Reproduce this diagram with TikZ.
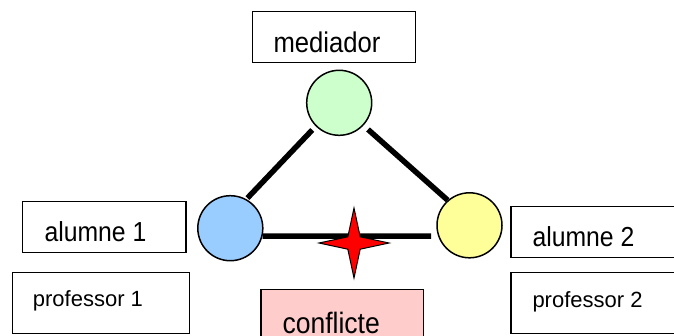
\documentclass[tikz,border=0pt]{standalone}
\usepackage{fontspec}
\setmainfont{Liberation Sans}
\newfontfamily\narrowsans{Liberation Sans}[FakeStretch=0.9]
\usetikzlibrary{shapes.geometric}

\definecolor{mediatorfill}{HTML}{CCFFCC}
\definecolor{studentonefill}{HTML}{99CCFF}
\definecolor{studenttwofill}{HTML}{FFFF99}
\definecolor{conflictfill}{HTML}{FFCCCC}
\definecolor{sparkred}{HTML}{FF0000}

\tikzset{
  box/.style={draw=black, line width=1.5pt, rectangle, anchor=north west,
    inner sep=0pt, outer sep=0pt},
  person/.style={draw=black, line width=1.5pt, circle, minimum size=65pt,
    inner sep=0pt},
  biglabel/.style={anchor=base west, inner sep=0pt,
    font=\narrowsans\fontsize{28.5}{30}\selectfont},
  smalllabel/.style={anchor=base west, inner sep=0pt,
    font=\fontsize{22}{24}\selectfont},
  link/.style={line width=5.5pt, black},
}

\begin{document}
\begin{tikzpicture}[x=1pt, y=-1pt]
  \useasboundingbox (0,0) rectangle (674,335);
  \clip (0,0) rectangle (674,335);

  % label boxes
  \node[box, minimum width=163.4pt, minimum height=51pt] (medbox) at (252.3,11.7) {};
  \node[box, minimum width=163.3pt, minimum height=50.6pt] (al1box) at (22.7,201.7) {};
  \node[box, minimum width=176.6pt, minimum height=60.6pt] (pr1box) at (12.7,272.7) {};
  \node[box, minimum width=175pt, minimum height=50.6pt] (al2box) at (511,206.7) {};
  \node[box, minimum width=175pt, minimum height=60.6pt] (pr2box) at (511,272.7) {};
  \node[box, fill=conflictfill, minimum width=162.3pt, minimum height=60pt] (confbox) at (261,289.3) {};

  % box texts
  \node[biglabel] (medtext) at (273.3,52.7) {mediador};
  \node[biglabel, font=\narrowsans\fontsize{27.5}{30}\selectfont] (al1text) at (44.3,241.7) {alumne 1};
  \node[biglabel, font=\narrowsans\fontsize{27.5}{30}\selectfont] (al2text) at (532.3,246.7) {alumne 2};
  \node[smalllabel] (pr1text) at (32.7,306.7) {professor 1};
  \node[smalllabel] (pr2text) at (532.3,307.3) {professor 2};
  \node[biglabel, font=\narrowsans\fontsize{29.5}{30}\selectfont] (conftext) at (282.3,333.2) {conflicte};

  % the three parties
  \node[person, fill=mediatorfill] (mediator) at (339.2,102.8) {};
  \node[person, fill=studentonefill] (studentone) at (230.3,228.2) {};
  \node[person, fill=studenttwofill] (studenttwo) at (469.5,225.3) {};

  % relations between them
  \draw[link, shorten <=1.5pt, shorten >=5pt] (studentone.61) -- (mediator.225);
  \draw[link, shorten <=6pt] (mediator.-43) -- (studenttwo.131);
  \draw[link, shorten >=7pt] (studentone.-14) -- (studenttwo.199);

  % spark marking the conflict
  \node[star, star points=4, star point ratio=4, minimum size=70pt, inner sep=0pt,
    draw=black, line width=1pt, fill=sparkred] (spark) at (354,243) {};
\end{tikzpicture}
\end{document}
